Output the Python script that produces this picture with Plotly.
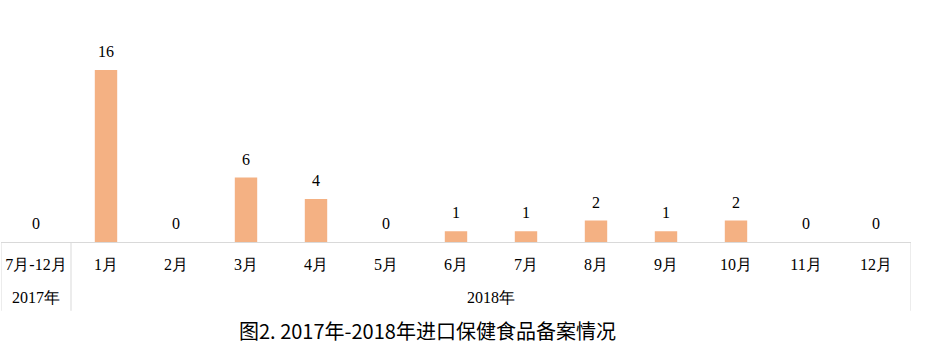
import plotly.graph_objects as go

categories = ["7月-12月", "1月", "2月", "3月", "4月", "5月", "6月", "7月", "8月", "9月", "10月", "11月", "12月"]
values = [0, 16, 0, 6, 4, 0, 1, 1, 2, 1, 2, 0, 0]
groups = [("2017年", 0, 0), ("2018年", 1, 12)]
caption = "图2. 2017年-2018年进口保健食品备案情况"

serif = "Liberation Serif"
xs = list(range(len(categories)))

fig = go.Figure(go.Bar(
    x=xs, y=values,
    marker=dict(color="#F4B183", line=dict(width=0)),
    width=0.32, hoverinfo="x+y",
))

for x, v in zip(xs, values):
    fig.add_annotation(x=x, y=v, xref="x", yref="y", text=str(v), showarrow=False,
                       yanchor="bottom", yshift=8,
                       font=dict(family=serif, size=16, color="#000"))

fig.update_layout(
    width=927, height=352,
    margin=dict(l=1, r=16, t=27, b=110),
    paper_bgcolor="white", plot_bgcolor="white",
    showlegend=False,
    xaxis=dict(
        tickmode="array", tickvals=xs, ticktext=categories,
        range=[-0.5, len(categories) - 0.5],
        showline=True, linecolor="#d9d9d9", linewidth=1,
        ticks="", showgrid=False, zeroline=False,
        tickfont=dict(family=serif, size=16, color="#000"),
        ticklabelstandoff=8,
    ),
    yaxis=dict(range=[0, 20], visible=False, showgrid=False, zeroline=False),
)

# table separators
for xv in [-0.5, 0.5, len(categories) - 0.5]:
    fig.add_shape(type="line", xref="x", yref="paper", x0=xv, x1=xv, y0=0, y1=-0.32,
                  line=dict(color="#d9d9d9", width=1))

for name, a, b in groups:
    fig.add_annotation(x=(a + b) / 2, y=-0.26, xref="x", yref="paper", text=name,
                       showarrow=False, font=dict(family=serif, size=16, color="#000"),
                       yanchor="middle")

fig.add_annotation(x=0.469, y=-0.41, xref="paper", yref="paper", text=caption,
                   showarrow=False, font=dict(family="Noto Sans CJK SC", size=20, color="#000"),
                   yanchor="middle")

fig.write_html("out.html")
